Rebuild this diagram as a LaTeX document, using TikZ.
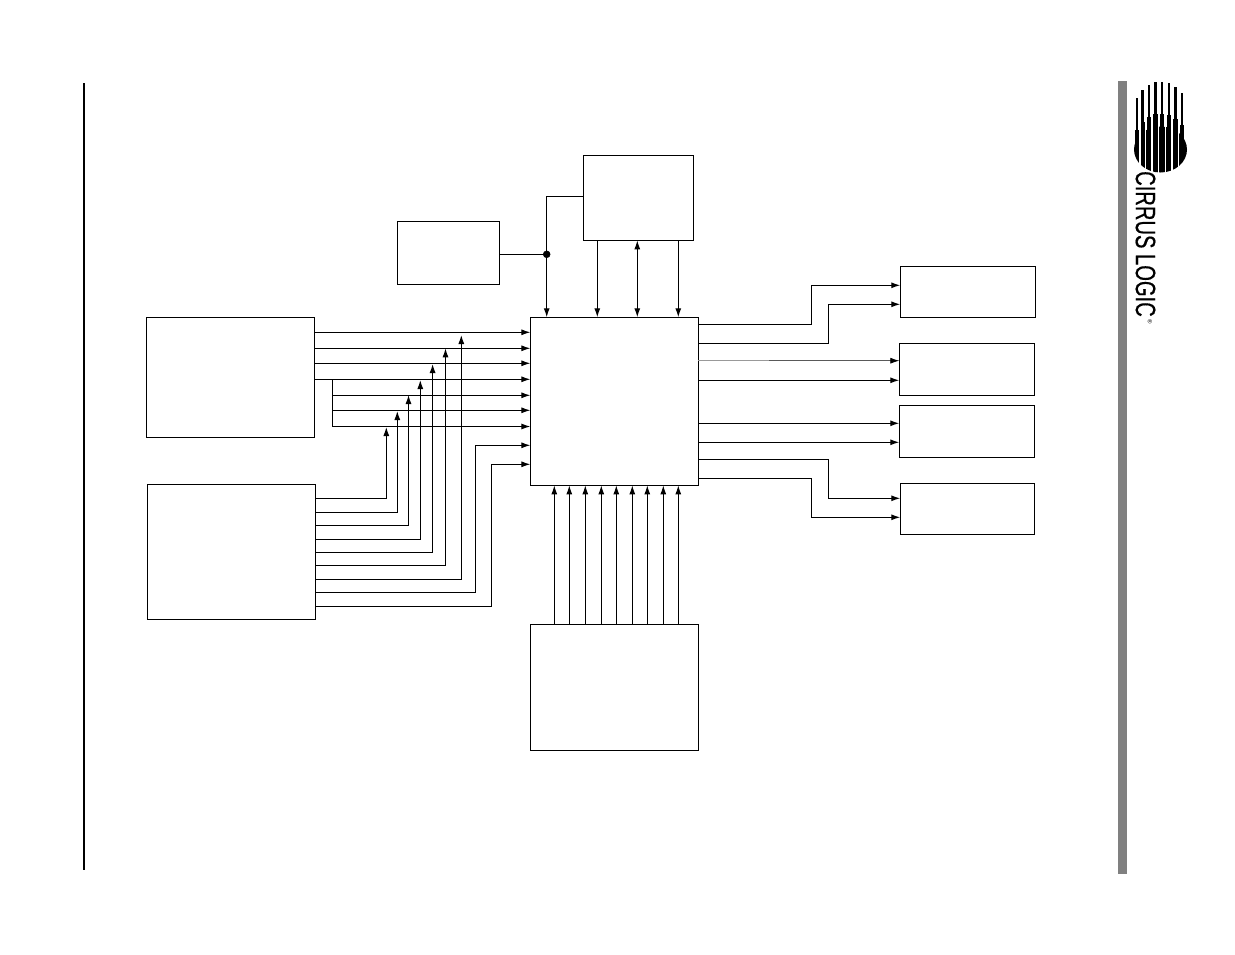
\documentclass[tikz,border=0pt]{standalone}
\usepackage{fontspec}
\setmainfont{Liberation Sans}
\newfontfamily\logofont[FakeBold=0.6]{Liberation Sans}
\usetikzlibrary{calc,positioning,arrows.meta}
\tikzset{
  % block and connector styles
  block/.style={rectangle,draw,inner sep=0pt,outer sep=0pt,line width=1.1pt},
  wire/.style={line width=1.1pt},
  sig/.style={wire,-{Latex[length=9pt,width=6pt]}},
  bisig/.style={wire,{Latex[length=9pt,width=6pt]}-{Latex[length=9pt,width=6pt]}},
  junct/.style={circle,draw,fill=black,inner sep=0pt,minimum size=7pt},
  void/.style={inner sep=0pt,minimum size=0pt},
  logotext/.style={inner sep=0pt,rotate=-90,anchor=center},
}

\begin{document}
\begin{tikzpicture}[x=1pt,y=-1pt]
  \useasboundingbox (0,0) rectangle (1235,954);
  % page furniture
  \coordinate (ruletop) at (84,83);
  \coordinate (rulebot) at (84,870);
  \draw[line width=2pt] (ruletop) -- (rulebot);
  \fill[black!50] (1118,81) rectangle (1127,874);
  % logo
  \fill (1160.5,149.5) ellipse (26.5 and 23);
  \foreach \x/\t in {1137/98,1142.3/90,1148.7/85,1155.3/82,1162/82,1168.7/83,1175.3/87,1181.7/93}{
    \fill (\x-1.2,\t) rectangle (\x+1.2,146);
    \fill (\x-2.2,\t+32) rectangle (\x+2.2,146);
  }
  \foreach \x in {1140,1145.7,1152,1158.7,1165.3,1172,1178.7}
    \fill[white] (\x-.6,80) rectangle (\x+.6,175);
  \node[logotext] (logoname) at (1145.5,244) {\fontsize{28pt}{28pt}\selectfont\logofont\scalebox{0.72}[1]{CIRRUS LOGIC}};
  \node[logotext] (logomark) at (1150,321.5) {\fontsize{6pt}{6pt}\selectfont ®};
  % blocks
  \node[block,minimum width=168pt,minimum height=168pt] (mainbox) at (614.4,401.3) {};
  \node[block,minimum width=110.4pt,minimum height=85pt] (topbox) at (638.5,197.8) {};
  \node[block,minimum width=102.4pt,minimum height=63pt] (clockbox) at (448.5,252.8) {};
  \node[block,minimum width=168pt,minimum height=119.8pt] (upperbox) at (230.5,377.4) {};
  \node[block,minimum width=168pt,minimum height=135pt] (lowerbox) at (231.5,552) {};
  \node[block,minimum width=168pt,minimum height=125.8pt] (bottombox) at (614.5,687.6) {};
  \node[block,minimum width=135.2pt,minimum height=51pt] (outa) at (967.9,291.8) {};
  \node[block,minimum width=135.2pt,minimum height=52pt] (outb) at (966.9,369.3) {};
  \node[block,minimum width=135.2pt,minimum height=52pt] (outc) at (966.9,431.3) {};
  \node[block,minimum width=134.2pt,minimum height=51.2pt] (outd) at (967.4,508.9) {};
  % top connectors
  \node[junct] (junction) at (546.7,254.3) {};
  \draw[wire] (clockbox.east |- junction.center) -- (junction.center);
  \draw[wire] (topbox.west |- 0,196.3) -| (junction.center);
  \draw[sig] (junction.center) -- (junction.center |- mainbox.north);
  \foreach \x in {597.3,678.3}
    \draw[sig] (\x,0 |- topbox.south) -- (\x,0 |- mainbox.north);
  \draw[bisig] (637.3,0 |- topbox.south) -- (637.3,0 |- mainbox.north);
  % left connectors
  \foreach \y in {332.3,348.3,363.3,379.3}
    \draw[sig] (upperbox.east |- 0,\y) -- (mainbox.west |- 0,\y);
  \coordinate (fork) at (332.3,379.3);
  \foreach \y in {395.3,410.3,426.5}
    \draw[sig] (fork) |- (mainbox.west |- 0,\y);
  \foreach \ya/\xa/\yb [count=\n] in {498.3/386.3/427,512.3/397.3/411,525.3/408.5/395,539.3/420.3/380,552.3/432.6/364,565.3/445.5/348.3,579.3/461.3/335}{
    \coordinate (uptip\n) at (\xa,\yb);
    \draw[sig] (lowerbox.east |- 0,\ya) -| (uptip\n);
  }
  \foreach \ya/\xa/\yb in {592.3/475.5/445.3,606.3/491.5/464.3}
    \draw[sig] (lowerbox.east |- 0,\ya) -- (\xa,\ya) |- (mainbox.west |- 0,\yb);
  % bottom connectors
  \foreach \x in {554.3,569.3,585.3,601.3,616.3,632.3,647.3,663.3,678.3}
    \draw[sig] (\x,0 |- bottombox.north) -- (\x,0 |- mainbox.south);
  % right connectors
  \draw[sig] (mainbox.east |- 0,324.3) -- (811.3,324.3) |- (outa.west |- 0,285.3);
  \draw[sig] (mainbox.east |- 0,343.3) -- (828.3,343.3) |- (outa.west |- 0,304.3);
  \coordinate (graybreak) at (769,360.7);
  \draw[line width=1.1pt,black!40] (mainbox.east |- graybreak) -- (graybreak);
  \draw[line width=.8pt,black!65,-{Latex[length=9pt,width=6pt,black]}] (graybreak) -- (outb.west |- graybreak);
  \draw[sig] (mainbox.east |- 0,380.3) -- (outb.west |- 0,380.3);
  \draw[sig] (mainbox.east |- 0,423.3) -- (outc.west |- 0,423.3);
  \draw[sig] (mainbox.east |- 0,442.3) -- (outc.west |- 0,442.3);
  \draw[sig] (mainbox.east |- 0,459.3) -- (828.3,459.3) |- (outd.west |- 0,498.3);
  \draw[sig] (mainbox.east |- 0,478.3) -- (811.3,478.3) |- (outd.west |- 0,517.3);
\end{tikzpicture}
\end{document}
